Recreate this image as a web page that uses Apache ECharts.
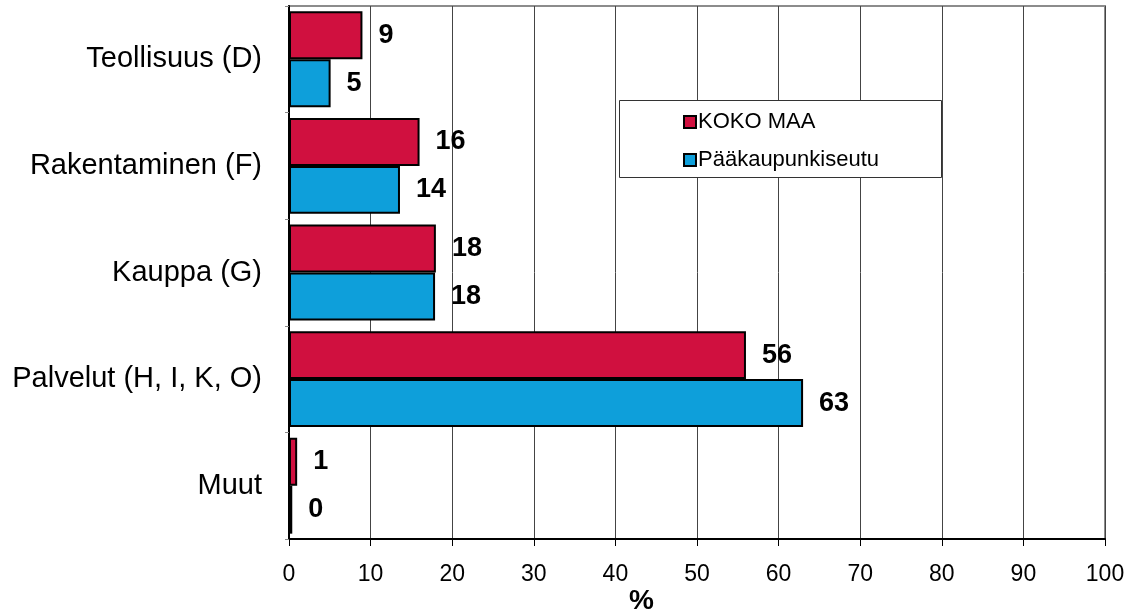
<!DOCTYPE html>
<html>
<head>
<meta charset="utf-8">
<script src="https://cdn.jsdelivr.net/npm/echarts@6/dist/echarts.min.js"></script>
<style>
html,body{margin:0;padding:0;background:#fff;}
#chart{width:1138px;height:614px;}
</style>
</head>
<body>
<div id="chart"></div>
<script>
var categories = ['Teollisuus (D)', 'Rakentaminen (F)', 'Kauppa (G)', 'Palvelut (H, I, K, O)', 'Muut'];
var seriesNames = ['KOKO MAA', 'Pääkaupunkiseutu'];
var kokoMaa = [9, 16, 18, 56, 1];
var paakaupunkiseutu = [5.1, 13.6, 17.9, 63, 0.4];
var xTicks = [0, 10, 20, 30, 40, 50, 60, 70, 80, 90, 100];
var axisTitle = '%';

var FONT = '"Liberation Sans", Arial, sans-serif';
var chart = echarts.init(document.getElementById('chart'), null, {renderer: 'canvas'});

function labelCfg() {
  return {
    show: true,
    position: 'right',
    distance: 16,
    fontFamily: FONT,
    fontSize: 27,
    fontWeight: 'bold',
    color: '#000',
    formatter: function (p) { return Math.round(p.value); }
  };
}

chart.setOption({
  backgroundColor: '#fff',
  animation: false,
  grid: {
    left: 289, right: 33, top: 6, bottom: 75,
    show: true, borderColor: '#8c8c8c', borderWidth: 2, backgroundColor: 'transparent'
  },
  graphic: [
    {
      type: 'rect', left: 619, top: 100, z: 100,
      shape: {width: 322, height: 77},
      style: {fill: '#fff', stroke: '#333', lineWidth: 1}
    },
    {
      type: 'text', left: 629, top: 587, z: 100,
      style: {text: axisTitle, font: 'bold 28px ' + FONT, fill: '#000'}
    }
  ],
  legend: {
    orient: 'vertical',
    left: 678, top: 106,
    z: 110,
    itemWidth: 12, itemHeight: 12, itemGap: 16,
    icon: 'rect',
    data: seriesNames,
    textStyle: {fontFamily: FONT, fontSize: 22, color: '#000', padding: [0, 0, 0, -3]},
    itemStyle: {borderColor: '#000', borderWidth: 2}
  },
  xAxis: {
    type: 'value',
    min: xTicks[0], max: xTicks[xTicks.length - 1], interval: 10,
    axisLine: {show: true, lineStyle: {color: '#000', width: 2}},
    axisTick: {show: true, length: 7, lineStyle: {color: '#000', width: 1}},
    axisLabel: {
      margin: 24, fontFamily: FONT, fontSize: 23, color: '#000',
      formatter: function (v) { return xTicks.indexOf(v) >= 0 ? String(v) : ''; }
    },
    splitLine: {show: true, lineStyle: {color: '#444', width: 1}}
  },
  yAxis: {
    type: 'category',
    inverse: true,
    data: categories,
    axisLine: {show: true, lineStyle: {color: '#000', width: 2}},
    axisTick: {show: true, length: 4, lineStyle: {color: '#888'}},
    axisLabel: {margin: 27, fontFamily: FONT, fontSize: 29, color: '#000'},
    splitLine: {show: false}
  },
  series: [
    {
      name: seriesNames[0], type: 'bar', data: kokoMaa,
      barGap: '0%', barCategoryGap: '10%',
      itemStyle: {color: '#D0103F', borderColor: '#000', borderWidth: 2},
      label: labelCfg()
    },
    {
      name: seriesNames[1], type: 'bar', data: paakaupunkiseutu,
      barGap: '0%', barCategoryGap: '10%',
      itemStyle: {color: '#0E9FDA', borderColor: '#000', borderWidth: 2},
      label: labelCfg()
    }
  ]
});
</script>
</body>
</html>
